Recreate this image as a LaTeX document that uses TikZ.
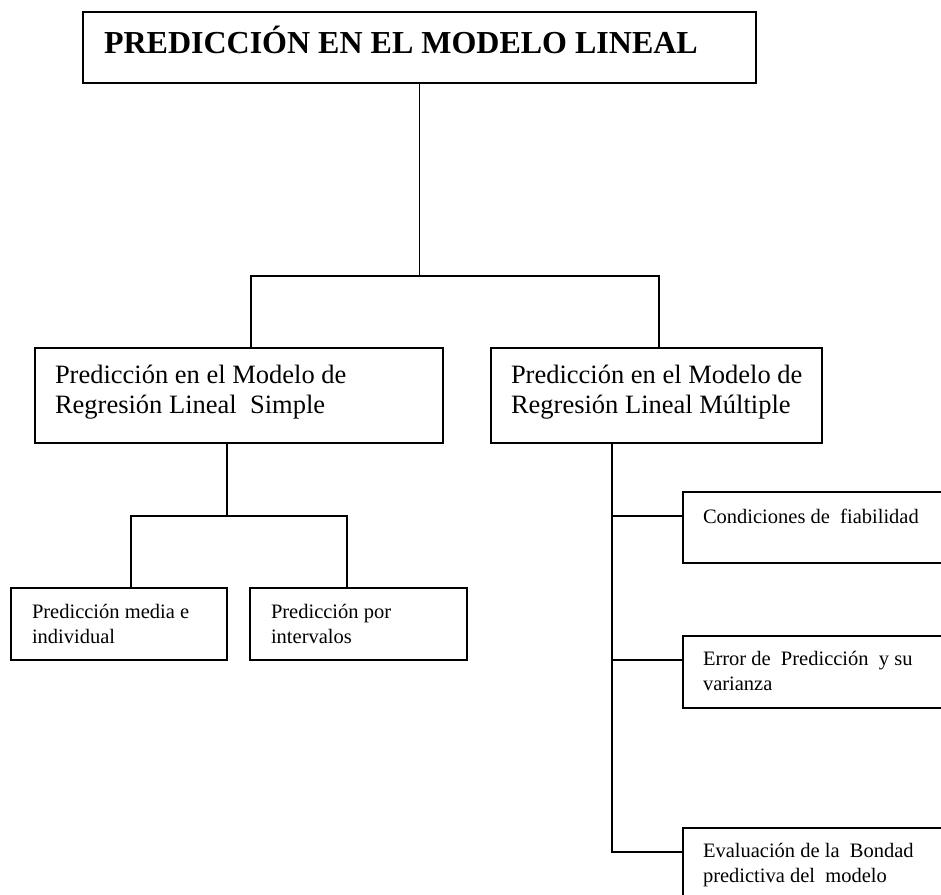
\documentclass[tikz,border=0pt]{standalone}
\usepackage{fontspec}
\setmainfont{Liberation Serif}
\usetikzlibrary{calc}
\begin{document}
\begin{tikzpicture}[x=1pt,y=-1pt,line width=1.6pt,
  box/.style={draw,line width=1.6pt,anchor=north west,inner sep=0pt,outer sep=0pt},
  conn/.style={draw,line width=1.6pt},
  txt/.style={anchor=base west,inner sep=0pt,outer sep=0pt,align=left},
  ttl/.style={txt,font=\fontsize{32}{38}\selectfont\bfseries},
  big/.style={txt,font=\fontsize{26.5}{30}\selectfont},
  sml/.style={txt,font=\fontsize{20.5}{24.5}\selectfont}]
\useasboundingbox (0,0) rectangle (941,894);
\clip (0,0) rectangle (941,894);
% boxes
\node[box,minimum width=673pt,minimum height=71pt] (top) at (83,12) {};
\node[box,minimum width=408pt,minimum height=95pt] (lm) at (35,348) {};
\node[box,minimum width=331pt,minimum height=95pt] (rm) at (491,348) {};
\node[box,minimum width=216pt,minimum height=72pt] (ba) at (11,588) {};
\node[box,minimum width=217pt,minimum height=72pt] (bb) at (250,588) {};
\node[box,minimum width=280pt,minimum height=71pt] (r1) at (683,492) {};
\node[box,minimum width=280pt,minimum height=72pt] (r2) at (683,636) {};
\node[box,minimum width=280pt,minimum height=72pt] (r3) at (683,828) {};
% texts (base anchor = baseline of last line)
\node[ttl] (t0) at (104,53) {PREDICCIÓN EN EL MODELO LINEAL};
\node[big] (t1) at (55,413) {Predicción en el Modelo de\\Regresión Lineal\ \ Simple};
\node[big] (t2) at (511,413) {Predicción en el Modelo de\\Regresión Lineal Múltiple};
\node[sml] (t3) at (32,643) {Predicción media e\\individual};
\node[sml] (t4) at (271,643) {Predicción por\\intervalos};
\node[sml] (t5) at (703,523) {Condiciones de\ \ fiabilidad};
\node[sml] (t6) at (703,690) {Error de\ \ Predicción\ \ y su\\varianza};
\node[sml] (t7) at (703,882) {Evaluación de la\ \ Bondad\\predictiva del\ \ modelo};
% connectors
\coordinate (j1) at ($(top.south)+(0,193)$);
\path[conn] (top.south) -- (j1);
\path[conn] (j1) -| ($(lm.north west)+(216,0)$);
\path[conn] (j1) -| ($(rm.north west)+(168,0)$);
\coordinate (v1) at ($(lm.south west)+(192,0)$);
\coordinate (j2) at ($(v1)+(0,73)$);
\path[conn] (v1) -- (j2);
\path[conn] (j2) -| ($(ba.north west)+(120,0)$);
\path[conn] (j2) -| ($(bb.north west)+(97,0)$);
\coordinate (v2) at ($(rm.south west)+(121,0)$);
\path[conn] (v2) |- ($(r3.north west)+(0,24)$);
\path[conn] ($(r1.north west)+(0,24)$) -- ($(r1.north west)+(-71,24)$);
\path[conn] ($(r2.north west)+(0,24)$) -- ($(r2.north west)+(-71,24)$);
\end{tikzpicture}
\end{document}
